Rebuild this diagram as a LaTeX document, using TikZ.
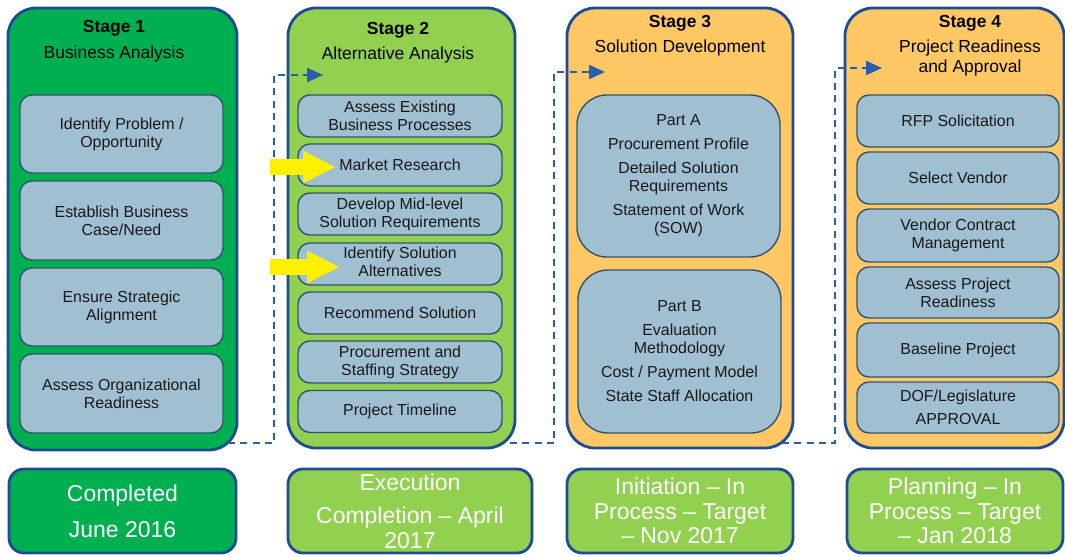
\documentclass[tikz,border=0pt]{standalone}
\usepackage{fontspec}
\setmainfont{Liberation Sans}
\usepackage{xcolor}
\usepackage{tikz}
\usetikzlibrary{arrows.meta, positioning}

\definecolor{stageA}{RGB}{0,176,80}
\definecolor{stageB}{RGB}{146,208,80}
\definecolor{stageC}{RGB}{255,200,100}
\definecolor{taskfill}{RGB}{160,192,210}
\definecolor{frameblue}{RGB}{30,75,150}
\definecolor{taskline}{RGB}{50,85,110}
\definecolor{flowblue}{RGB}{40,95,170}
\definecolor{hintyellow}{RGB}{255,240,0}

\tikzset{
  stage/.style={rectangle, draw=frameblue, line width=2.4pt,
                rounded corners=0.84cm, inner sep=0pt},
  stageG/.style={stage, fill=stageA},
  stageL/.style={stage, fill=stageB},
  stageO/.style={stage, fill=stageC},
  task/.style={rectangle, draw=taskline, fill=taskfill, line width=1.2pt,
               rounded corners=0.36cm, inner sep=0pt, align=center,
               text=black!90, font=\fontsize{13.6}{15.4}\selectfont},
  part/.style={task, rounded corners=0.9cm},
  status/.style={rectangle, draw=frameblue, line width=2.4pt,
                 rounded corners=0.45cm, inner sep=0pt, align=center,
                 minimum height=2.52cm, text=white,
                 font=\fontsize{19.6}{20.9}\selectfont},
  flow/.style={-{Triangle[length=0.48cm, width=0.42cm]}, draw=flowblue,
               line width=2pt, dash pattern=on 6pt off 4.5pt},
  hint/.style={-{Triangle[length=0.99cm, width=0.9cm]}, draw=hintyellow,
               line width=0.48cm},
}

\begin{document}
\begin{tikzpicture}[
  x=0.03cm, y=-0.03cm,
  title/.style={align=center, inner sep=0pt, text=black,
                font=\fontsize{14.9}{17.2}\selectfont}
]
  \useasboundingbox (0,0) rectangle (1065,556);

  % Stage frames
  \node[stageG, minimum width=6.87cm, minimum height=13.26cm] (s1) at (122.5,229) {};
  \node[stageL, minimum width=6.81cm, minimum height=13.2cm]  (s2) at (401.5,228) {};
  \node[stageO, minimum width=6.78cm, minimum height=13.2cm]  (s3) at (680,228)   {};
  \node[stageO, minimum width=6.57cm, minimum height=13.2cm]  (s4) at (954.5,228) {};

  % Stage titles
  \node[title] (t1) at (114,41)   {\textbf{Stage 1}\\[0.18cm]Business Analysis};
  \node[title] (t2) at (398,42.5) {\textbf{Stage 2}\\[0.15cm]Alternative Analysis};
  \node[title] (t3) at (680,35.5) {\textbf{Stage 3}\\[0.15cm]Solution Development};
  \node[title] (t4) at (970,45.5) {\textbf{Stage 4}\\[0.15cm]Project Readiness\\and Approval};

  % Stage 1 tasks
  \node[task, minimum width=6.09cm, minimum height=2.34cm] (idp) at (121.5,134)   {Identify Problem /\\Opportunity};
  \node[task, minimum width=6.09cm, minimum height=2.37cm] (ebc) at (121.5,220.5) {Establish Business\\Case/Need};
  \node[task, minimum width=6.09cm, minimum height=2.34cm] (esa) at (121.5,307)   {Ensure Strategic\\Alignment};
  \node[task, minimum width=6.09cm, minimum height=2.37cm] (aor) at (121.5,393.5) {Assess Organizational\\Readiness};

  % Stage 2 tasks
  \node[task, minimum width=6.12cm, minimum height=1.26cm] (aeb) at (400,116)   {Assess Existing\\Business Processes};
  \node[task, minimum width=6.12cm, minimum height=1.26cm] (mkt) at (400,165)   {Market Research};
  \node[task, minimum width=6.12cm, minimum height=1.26cm] (dms) at (400,214)   {Develop Mid-level\\Solution Requirements};
  \node[task, minimum width=6.12cm, minimum height=1.26cm] (isa) at (400,264)   {\raisebox{0.07cm}{\begin{tabular}{@{}c@{}}Identify Solution\\Alternatives\end{tabular}}};
  \node[task, minimum width=6.12cm, minimum height=1.26cm] (rcs) at (400,313)   {Recommend Solution};
  \node[task, minimum width=6.12cm, minimum height=1.26cm] (pss) at (400,362)   {Procurement and\\Staffing Strategy};
  \node[task, minimum width=6.12cm, minimum height=1.26cm] (ptl) at (400,411.5) {Project Timeline};

  % Stage 3 parts
  \node[part, minimum width=6.09cm, minimum height=4.86cm] (pa) at (678.5,176)
    {Part A\\[0.18cm]Procurement Profile\\[0.18cm]Detailed Solution\\Requirements\\[0.18cm]Statement of Work\\(SOW)};
  \node[part, minimum width=6.09cm, minimum height=4.89cm] (pb) at (679.5,351.5)
    {Part B\\[0.18cm]Evaluation\\Methodology\\[0.18cm]Cost / Payment Model\\[0.18cm]State Staff Allocation};

  % Stage 4 tasks
  \node[task, minimum width=6.06cm, minimum height=1.56cm] (rfp) at (958,121)   {RFP Solicitation};
  \node[task, minimum width=6.06cm, minimum height=1.56cm] (slv) at (958,178)   {Select Vendor};
  \node[task, minimum width=6.06cm, minimum height=1.59cm] (vcm) at (958,235.5) {Vendor Contract\\Management};
  \node[task, minimum width=6.06cm, minimum height=1.53cm] (apr) at (958,292.5) {Assess Project\\Readiness};
  \node[task, minimum width=6.06cm, minimum height=1.62cm] (bsl) at (958,350)   {Baseline Project};
  \node[task, minimum width=6.06cm, minimum height=1.53cm] (dof) at (958,407.5) {DOF/Legislature\\[0.15cm]APPROVAL};

  % Status boxes
  \node[status, fill=stageA, minimum width=6.81cm] (b1) at (122.5,511) {Completed\\[0.35cm]June 2016};
  \node[status, fill=stageB, minimum width=7.32cm] (b2) at (410,511)   {Execution\\[0.26cm]Completion -- April\\2017};
  \node[status, fill=stageB, minimum width=6.78cm] (b3) at (680,511)   {Initiation -- In\\Process -- Target\\-- Nov 2017};
  \node[status, fill=stageB, minimum width=6.48cm] (b4) at (955,511)   {Planning -- In\\Process -- Target\\-- Jan 2018};

  % Hand-over connectors
  \coordinate (o1) at (228,443); \coordinate (i2) at (323,75);
  \coordinate (o2) at (510,443); \coordinate (i3) at (605,72);
  \coordinate (o3) at (782,443); \coordinate (i4) at (882,68);
  \draw[flow] (o1) -- (274,443) -- (274,75) -- (i2);
  \draw[flow] (o2) -- (554,443) -- (554,72) -- (i3);
  \draw[flow] (o3) -- (835,443) -- (835,68) -- (i4);

  % Highlight arrows
  \coordinate (h1) at (270,167); \coordinate (h1t) at (336,167);
  \coordinate (h2) at (270,267); \coordinate (h2t) at (340,267);
  \draw[hint] (h1) -- (h1t);
  \draw[hint] (h2) -- (h2t);

\end{tikzpicture}
\end{document}
